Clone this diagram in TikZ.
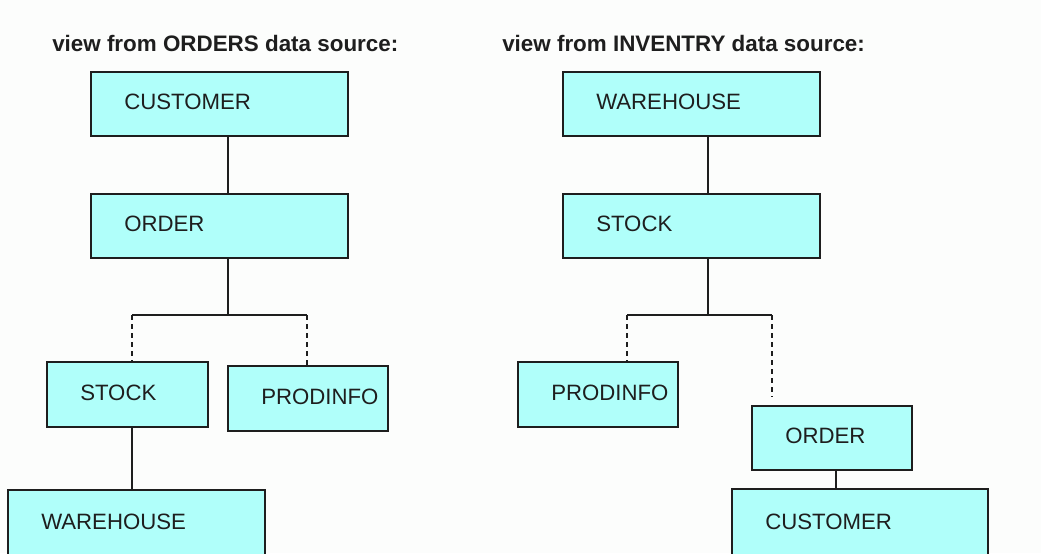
\documentclass[tikz,border=0pt]{standalone}
\usepackage{fontspec}
\setmainfont{Liberation Sans}
\usetikzlibrary{calc}
\definecolor{boxfill}{RGB}{176,255,250}
\definecolor{bgcol}{RGB}{252,253,252}
\definecolor{ink}{RGB}{30,30,30}
\tikzset{
  segment/.style={draw=ink, fill=boxfill, line width=1.4pt, inner sep=0pt, outer sep=0pt},
  lbl/.style={anchor=west, inner sep=0pt, text=ink, font=\fontsize{16.65pt}{18pt}\selectfont},
  title/.style={anchor=base west, inner sep=0pt, text=ink, font=\bfseries\fontsize{16.8pt}{20pt}\selectfont},
  conn/.style={draw=ink, line width=1.2pt},
  dconn/.style={draw=ink, line width=1.2pt, dash pattern=on 3.75pt off 3pt},
}
\newcommand\segbox[6]{%
  \node[segment, minimum width={(#4-#2)*0.75pt}, minimum height={(#5-#3)*0.75pt}, anchor=north west] (#1) at (#2,#3) {};
  \node[lbl] (#1-t) at ($(#1.west)+(33,-2)$) {#6};
}
\begin{document}
\begin{tikzpicture}[x=0.75pt, y=-0.75pt]
\clip (0,0) rectangle (1041,553);
\fill[bgcol] (0,0) rectangle (1041,553);

\node[title] (t1) at (52,51) {view from ORDERS data source:};
\node[title] (t2) at (502,51) {view from INVENTRY data source:};

% left tree
\segbox{lcust}{91}{72}{348}{136}{CUSTOMER}
\segbox{lord}{91}{194}{348}{258}{ORDER}
\segbox{lstock}{47}{362}{208}{427}{STOCK}
\segbox{lprod}{228}{366}{388}{431}{PRODINFO}
\segbox{lware}{8}{490}{265}{558}{WAREHOUSE}

% right tree
\segbox{rware}{563}{72}{820}{136}{WAREHOUSE}
\segbox{rstock}{563}{194}{820}{258}{STOCK}
\segbox{rprod}{518}{362}{678}{427}{PRODINFO}
\segbox{rord}{752}{406}{912}{470}{ORDER}
\segbox{rcust}{732}{489}{988}{558}{CUSTOMER}

% left connectors
\coordinate (jL) at (228,315);
\coordinate (jLa) at (132,315);
\coordinate (jLb) at (307,315);
\draw[conn] (lcust.south -| jL) -- (lord.north -| jL);
\draw[conn] (lord.south -| jL) -- (jL);
\draw[conn] (jLa) -- (jLb);
\draw[dconn] (jLa) -- (lstock.north -| jLa);
\draw[dconn] (jLb) -- (lprod.north -| jLb);
\draw[conn] (lstock.south -| jLa) -- (lware.north -| jLa);

% right connectors
\coordinate (jR) at (708,315);
\coordinate (jRa) at (627,315);
\coordinate (jRb) at (772,315);
\coordinate (eR) at (772,397);
\coordinate (kR) at (836,480);
\draw[conn] (rware.south -| jR) -- (rstock.north -| jR);
\draw[conn] (rstock.south -| jR) -- (jR);
\draw[conn] (jRa) -- (jRb);
\draw[dconn] (jRa) -- (rprod.north -| jRa);
\draw[dconn] (jRb) -- (eR);
\draw[conn] (rord.south -| kR) -- (rcust.north -| kR);
\end{tikzpicture}
\end{document}
